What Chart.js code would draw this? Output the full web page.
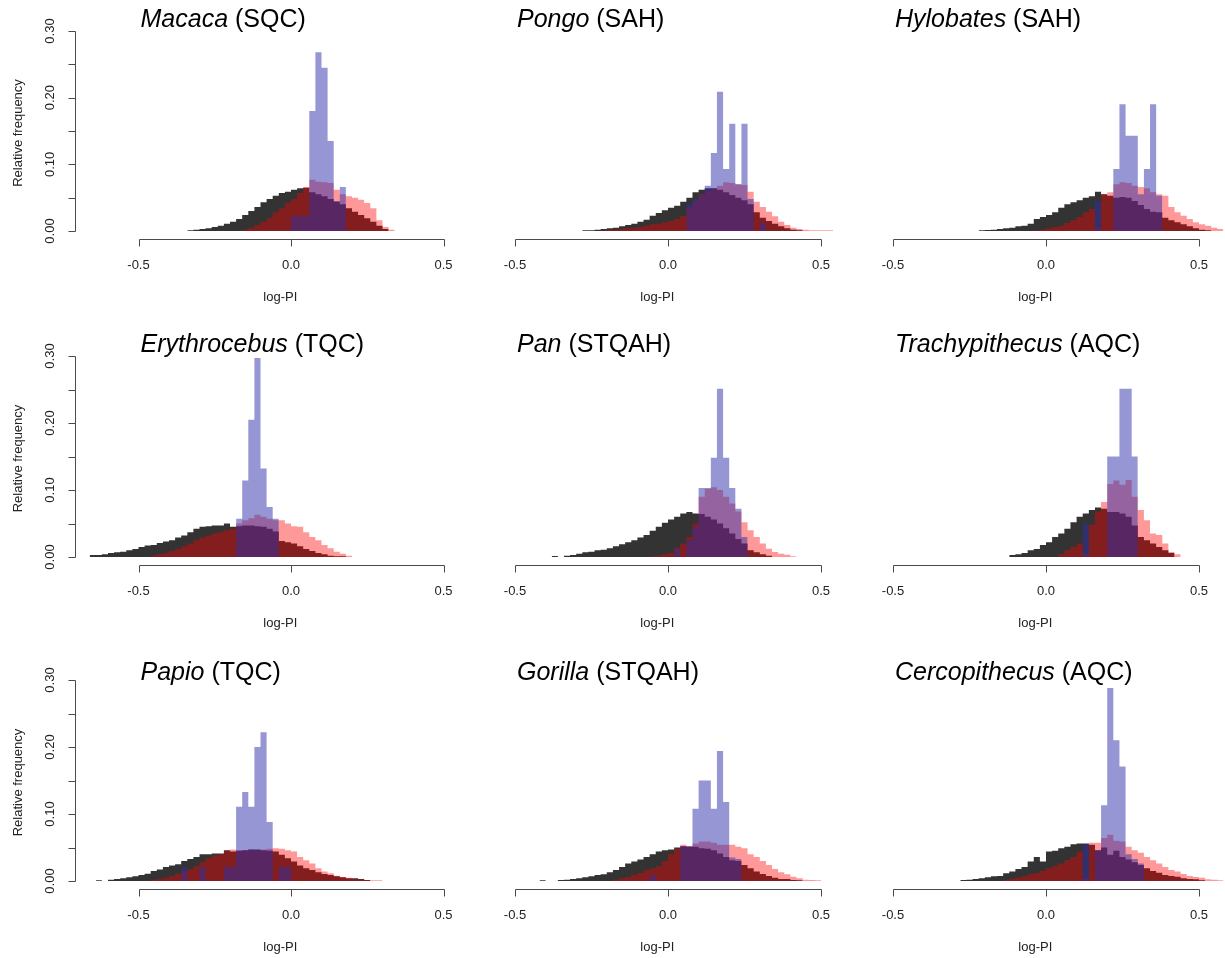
<!DOCTYPE html>
<html><head><meta charset="utf-8">
<script src="https://cdn.jsdelivr.net/npm/chart.js@4.4.1/dist/chart.umd.min.js"></script>
<style>
html,body{margin:0;padding:0;background:#fff;}
#wrap{position:relative;width:1225px;height:958px;overflow:hidden;background:#fff;}
#wrap canvas{position:absolute;left:0;top:0;}
</style></head><body><div id="wrap"></div>
<script>
// ---------------- DATA ----------------
const binWidth = 0.02;
const genera = ['Macaca','Pongo','Hylobates','Erythrocebus','Pan','Trachypithecus','Papio','Gorilla','Cercopithecus'];
const groups = ['SQC','SAH','SAH','TQC','STQAH','AQC','TQC','STQAH','AQC'];
const xTickValues = [-0.5, 0, 0.5];
const xTickLabels = ['-0.5', '0.0', '0.5'];
const yTickValues = [0, 0.05, 0.10, 0.15, 0.20, 0.25, 0.30];
const yLabelValues = [0, 0.10, 0.20, 0.30];
const yLabelTexts = ['0.00', '0.10', '0.20', '0.30'];

// Macaca
const macacaBlackStart = -0.34;
const macacaBlack = [0.001,0.002,0.003,0.004,0.006,0.008,0.011,0.014,0.018,0.024,0.030,0.036,0.043,0.048,0.053,0.057,0.059,0.062,0.064,0.065,0.058,0.055,0.052,0.048,0.044,0.040,0.034,0.029,0.024,0.019,0.014,0.008,0.003];
const macacaRedStart = -0.16;
const macacaRed = [0.002,0.005,0.009,0.014,0.020,0.028,0.034,0.042,0.048,0.057,0.066,0.077,0.074,0.073,0.072,0.062,0.055,0.052,0.050,0.047,0.042,0.034,0.016,0.006,0.002];
const macacaBlueStart = 0.00;
const macacaBlue = [0.022,0.022,0.022,0.180,0.268,0.245,0.135,0.045,0.066];

// Pongo
const pongoBlackStart = -0.28;
const pongoBlack = [0.001,0.001,0.002,0.003,0.004,0.005,0.007,0.009,0.011,0.014,0.017,0.023,0.027,0.031,0.035,0.038,0.044,0.050,0.058,0.062,0.064,0.064,0.062,0.058,0.054,0.050,0.046,0.040,0.028,0.020,0.015,0.011,0.007,0.004,0.002,0.001];
const pongoRedStart = -0.22;
const pongoRed = [0.001,0.002,0.002,0.003,0.004,0.005,0.006,0.008,0.010,0.011,0.013,0.015,0.018,0.022,0.035,0.045,0.055,0.060,0.064,0.068,0.073,0.072,0.070,0.069,0.059,0.044,0.036,0.029,0.022,0.014,0.009,0.005,0.003,0.002,0.001,0.001,0.001,0.001];
const pongoBlueStart = 0.06;
const pongoBlue = [0.040,0.048,0.055,0.068,0.117,0.209,0.093,0.161,0.070,0.161,0.048,0,0.012];

// Hylobates
const hylobatesBlackStart = -0.22;
const hylobatesBlack = [0.001,0.0015,0.002,0.003,0.004,0.005,0.007,0.008,0.011,0.018,0.021,0.024,0.028,0.035,0.040,0.043,0.046,0.050,0.052,0.059,0.055,0.053,0.050,0.051,0.050,0.045,0.039,0.033,0.029,0.028,0.020,0.016,0.013,0.010,0.007,0.004,0.002,0.001];
const hylobatesRedStart = -0.04;
const hylobatesRed = [0.001,0.002,0.004,0.006,0.008,0.012,0.016,0.021,0.028,0.033,0.005,0.055,0.058,0.070,0.073,0.072,0.068,0.066,0.064,0.058,0.055,0.053,0.036,0.028,0.023,0.018,0.013,0.010,0.008,0.005,0.003];
const hylobatesBlueStart = 0.16;
const hylobatesBlue = [0.045,0,0,0.093,0.190,0.143,0.143,0.055,0.093,0.190,0.053];

// Erythrocebus
const erythrocebusBlackStart = -0.66;
const erythrocebusBlack = [0.003,0.003,0.004,0.006,0.007,0.008,0.010,0.012,0.015,0.017,0.018,0.021,0.023,0.025,0.029,0.032,0.037,0.042,0.045,0.046,0.047,0.047,0.050,0.045,0.046,0.047,0.047,0.046,0.045,0.042,0.038,0.024,0.022,0.020,0.016,0.012,0.009,0.006,0.004,0.002,0.001,0.001];
const erythrocebusRedStart = -0.46;
const erythrocebusRed = [0.002,0.004,0.006,0.009,0.012,0.016,0.020,0.025,0.029,0.032,0.035,0.037,0.040,0.042,0.050,0.055,0.058,0.063,0.060,0.057,0.055,0.055,0.050,0.046,0.045,0.037,0.030,0.025,0.018,0.013,0.008,0.005,0.002];
const erythrocebusBlueStart = -0.18;
const erythrocebusBlue = [0.057,0.114,0.205,0.297,0.132,0.0745,0.057];

// Pan
const panBlackStart = -0.38;
const panBlack = [0.0015,0,0.002,0.003,0.005,0.007,0.008,0.010,0.011,0.013,0.016,0.019,0.022,0.025,0.029,0.033,0.039,0.045,0.051,0.056,0.060,0.065,0.067,0.065,0.064,0.060,0.056,0.050,0.043,0.035,0.027,0.020,0.010,0.007,0.004,0.002];
const panRedStart = -0.06;
const panRed = [0.001,0.002,0.004,0.006,0.013,0.020,0.030,0.050,0.090,0.102,0.104,0.100,0.090,0.080,0.068,0.052,0.040,0.030,0.020,0.0125,0.0075,0.005,0.0035,0.001];
const panBlueStart = 0.02;
const panBlue = [0.012,0,0.025,0.045,0.103,0.103,0.148,0.251,0.148,0.103,0.072,0.030];

// Trachypithecus
const trachyBlackStart = -0.12;
const trachyBlack = [0.003,0.004,0.006,0.010,0.012,0.018,0.022,0.030,0.035,0.042,0.052,0.060,0.065,0.070,0.074,0.072,0.067,0.067,0.065,0.060,0.047,0.030,0.025,0.020,0.015,0.010,0.006];
const trachyRedStart = 0.04;
const trachyRed = [0.004,0.010,0.015,0.020,0.005,0.048,0.068,0.082,0.109,0.114,0.108,0.115,0.090,0.070,0.055,0.035,0.033,0.020,0.0075,0.004];
const trachyBlueStart = 0.12;
const trachyBlue = [0.050,0,0,0,0.150,0.150,0.251,0.251,0.150];

// Papio
const papioBlackStart = -0.64;
const papioBlack = [0.001,0,0.002,0.003,0.004,0.0055,0.007,0.009,0.011,0.015,0.017,0.021,0.023,0.025,0.030,0.033,0.036,0.040,0.040,0.041,0.041,0.046,0.044,0.045,0.046,0.047,0.047,0.046,0.045,0.044,0.039,0.034,0.029,0.023,0.019,0.0165,0.013,0.0105,0.009,0.007,0.0055,0.004,0.004,0.003,0.0015];
const papioRedStart = -0.46;
const papioRed = [0.002,0.003,0.005,0.007,0.011,0.014,0.018,0.022,0.028,0.034,0.038,0.040,0.045,0.047,0.046,0.046,0.047,0.046,0.047,0.048,0.049,0.048,0.046,0.044,0.036,0.031,0.026,0.019,0.014,0.0115,0.008,0.006,0.005,0.003,0.0025,0.0015,0.001,0.001];
const papioBlueStart = -0.36;
const papioBlue = [0.021,0,0,0.021,0,0,0,0.021,0.021,0.111,0.133,0.111,0.200,0.222,0.088,0,0.021,0.021];

// Gorilla
const gorillaBlackStart = -0.42;
const gorillaBlack = [0.0012,0,0,0.0015,0.002,0.003,0.004,0.0055,0.007,0.009,0.010,0.013,0.0165,0.021,0.026,0.029,0.032,0.036,0.040,0.044,0.046,0.047,0.050,0.052,0.051,0.051,0.049,0.048,0.046,0.041,0.036,0.031,0.030,0.024,0.019,0.014,0.0105,0.0075,0.005,0.003,0.003,0.0015,0.001];
const gorillaRedStart = -0.18;
const gorillaRed = [0.002,0.004,0.006,0.009,0.012,0.016,0.019,0.022,0.030,0.040,0.048,0.054,0.052,0.056,0.059,0.059,0.057,0.054,0.054,0.054,0.051,0.049,0.040,0.036,0.030,0.024,0.018,0.013,0.010,0.0065,0.004,0.002,0.0015,0.001];
const gorillaBlueStart = -0.06;
const gorillaBlue = [0.009,0,0,0,0,0.052,0.052,0.108,0.150,0.150,0.108,0.194,0.118,0.035,0.033];

// Cercopithecus
const cercoBlackStart = -0.28;
const cercoBlack = [0.0015,0.002,0.003,0.004,0.0055,0.007,0.0075,0.0115,0.014,0.018,0.021,0.029,0.036,0.029,0.044,0.045,0.049,0.051,0.055,0.056,0.056,0.054,0.046,0.050,0.039,0.045,0.036,0.032,0.028,0.024,0.019,0.015,0.0125,0.009,0.0075,0.0065,0.004,0.003,0.0025,0.001];
const cercoRedStart = -0.14;
const cercoRed = [0.002,0.003,0.005,0.007,0.010,0.012,0.015,0.019,0.022,0.026,0.031,0.036,0.044,0.004,0.057,0.057,0.064,0.069,0.060,0.059,0.051,0.046,0.042,0.036,0.031,0.026,0.021,0.0165,0.014,0.0105,0.0075,0.006,0.005,0.0025,0.002,0.001];
const cercoBlueStart = 0.12;
const cercoBlue = [0.055,0,0.046,0.113,0.288,0.210,0.171,0.040,0.033,0.026];

// ---------------- LAYOUT / STYLE ----------------
const W = 1225, H = 958;
const colX0 = [291, 668, 1046];        // pixel of x = 0
const colSx = [305, 306, 306];         // pixels per unit x
const rowBase = [231, 557, 881];       // pixel of y = 0
const rowSy = [666.7, 670, 670];       // pixels per unit y
const titleBase = [27, 352, 680];
const xMin = -0.72, xMax = 0.58, yMax = 0.33;
const xlabCenter = -0.035;
const yAxisX = 75.5;
const FONT = '"Liberation Sans", Arial, Helvetica, sans-serif';
const blackCol = '#333333';
const redCol = 'rgba(255,0,0,0.4)';
const blueCol = 'rgba(45,45,170,0.5)';
const axisCol = '#4a4a4a';
const textCol = '#222222';

const panelSeries = [
  [macacaBlackStart, macacaBlack, macacaRedStart, macacaRed, macacaBlueStart, macacaBlue],
  [pongoBlackStart, pongoBlack, pongoRedStart, pongoRed, pongoBlueStart, pongoBlue],
  [hylobatesBlackStart, hylobatesBlack, hylobatesRedStart, hylobatesRed, hylobatesBlueStart, hylobatesBlue],
  [erythrocebusBlackStart, erythrocebusBlack, erythrocebusRedStart, erythrocebusRed, erythrocebusBlueStart, erythrocebusBlue],
  [panBlackStart, panBlack, panRedStart, panRed, panBlueStart, panBlue],
  [trachyBlackStart, trachyBlack, trachyRedStart, trachyRed, trachyBlueStart, trachyBlue],
  [papioBlackStart, papioBlack, papioRedStart, papioRed, papioBlueStart, papioBlue],
  [gorillaBlackStart, gorillaBlack, gorillaRedStart, gorillaRed, gorillaBlueStart, gorillaBlue],
  [cercoBlackStart, cercoBlack, cercoRedStart, cercoRed, cercoBlueStart, cercoBlue]
];

function stepPoints(start, vals) {
  const pts = vals.map((v, i) => ({x: +(start + i * binWidth).toFixed(4), y: v}));
  pts.push({x: +(start + vals.length * binWidth).toFixed(4), y: 0});
  return pts;
}

function makeAxesPlugin(idx, row, col) {
  return {
    id: 'panelAxes' + idx,
    afterDraw(chart) {
      const ctx = chart.ctx;
      const xs = chart.scales.x, ys = chart.scales.y;
      ctx.save();
      // x axis
      const axisY = Math.round(ys.getPixelForValue(0)) + 8.5;
      const xl = xs.getPixelForValue(xTickValues[0]);
      const xr = xs.getPixelForValue(xTickValues[xTickValues.length - 1]);
      ctx.strokeStyle = axisCol;
      ctx.lineWidth = 1;
      ctx.beginPath();
      ctx.moveTo(Math.round(xl) + 0.5, axisY);
      ctx.lineTo(Math.round(xr) + 0.5, axisY);
      xTickValues.forEach(v => {
        const px = Math.round(xs.getPixelForValue(v)) + 0.5;
        ctx.moveTo(px, axisY);
        ctx.lineTo(px, axisY + 7);
      });
      ctx.stroke();
      ctx.fillStyle = textCol;
      ctx.font = '13px ' + FONT;
      ctx.textAlign = 'center';
      ctx.textBaseline = 'middle';
      xTickValues.forEach((v, i) => {
        ctx.fillText(xTickLabels[i], xs.getPixelForValue(v), axisY + 26);
      });
      ctx.fillText('log-PI', xs.getPixelForValue(xlabCenter), axisY + 58);

      // y axis on left column
      if (col === 0) {
        const y0 = ys.getPixelForValue(yTickValues[0]);
        const y1 = ys.getPixelForValue(yTickValues[yTickValues.length - 1]);
        ctx.beginPath();
        ctx.moveTo(yAxisX, Math.round(y0) + 0.5);
        ctx.lineTo(yAxisX, Math.round(y1) + 0.5);
        yTickValues.forEach(v => {
          const py = Math.round(ys.getPixelForValue(v)) + 0.5;
          ctx.moveTo(yAxisX, py);
          ctx.lineTo(yAxisX - 7, py);
        });
        ctx.stroke();
        yLabelValues.forEach((v, i) => {
          const py = ys.getPixelForValue(v);
          ctx.save();
          ctx.translate(50, py);
          ctx.rotate(-Math.PI / 2);
          ctx.fillText(yLabelTexts[i], 0, 0);
          ctx.restore();
        });
        ctx.save();
        ctx.translate(18, (y0 + y1) / 2 + 2);
        ctx.rotate(-Math.PI / 2);
        ctx.fillText('Relative frequency', 0, 0);
        ctx.restore();
      }

      // title
      const tx = xs.getPixelForValue(xTickValues[0]) + 2;
      const ty = titleBase[row];
      ctx.fillStyle = '#000';
      ctx.textAlign = 'left';
      ctx.textBaseline = 'alphabetic';
      ctx.font = 'italic 25px ' + FONT;
      ctx.fillText(genera[idx], tx, ty);
      const w = ctx.measureText(genera[idx]).width;
      ctx.font = '25px ' + FONT;
      ctx.fillText(' (' + groups[idx] + ')', tx + w, ty);
      ctx.restore();
    }
  };
}

const wrap = document.getElementById('wrap');
for (let i = 0; i < 9; i++) {
  const row = Math.floor(i / 3), col = i % 3;
  const cv = document.createElement('canvas');
  cv.width = W; cv.height = H;
  cv.style.width = W + 'px'; cv.style.height = H + 'px';
  wrap.appendChild(cv);
  const X0 = colX0[col], Sx = colSx[col], B = rowBase[row], Sy = rowSy[row];
  const padLeft = X0 + xMin * Sx;
  const padRight = W - (X0 + xMax * Sx);
  const padTop = B - yMax * Sy;
  const padBottom = H - B;
  const s = panelSeries[i];
  new Chart(cv, {
    type: 'line',
    data: {
      datasets: [
        {label: 'black', data: stepPoints(s[0], s[1]), backgroundColor: blackCol, fill: 'origin', order: 3},
        {label: 'red', data: stepPoints(s[2], s[3]), backgroundColor: redCol, fill: 'origin', order: 2},
        {label: 'blue', data: stepPoints(s[4], s[5]), backgroundColor: blueCol, fill: 'origin', order: 1}
      ]
    },
    options: {
      responsive: false,
      animation: false,
      events: [],
      devicePixelRatio: 1,
      layout: {padding: {left: padLeft, right: padRight, top: padTop, bottom: padBottom}},
      datasets: {line: {stepped: 'before', borderWidth: 0, pointRadius: 0, tension: 0, spanGaps: true}},
      plugins: {legend: {display: false}, tooltip: {enabled: false}, title: {display: false}},
      scales: {
        x: {type: 'linear', min: xMin, max: xMax, display: false},
        y: {type: 'linear', min: 0, max: yMax, display: false}
      }
    },
    plugins: [makeAxesPlugin(i, row, col)]
  });
}
</script>
</body></html>
